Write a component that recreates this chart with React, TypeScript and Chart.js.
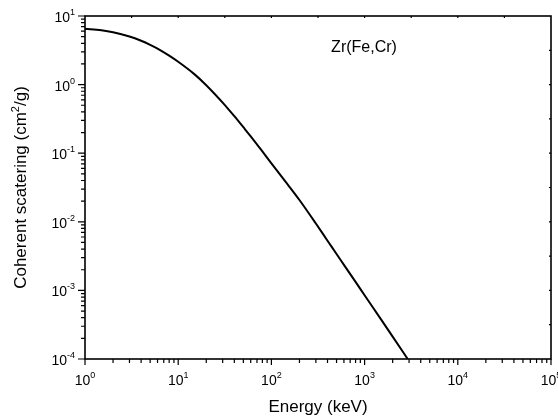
import React, { useEffect, useRef } from "react";
import { Chart, registerables } from "chart.js";

Chart.register(...registerables);

// Energy (keV)
const energies = [1, 1.5, 2, 3, 4, 5, 6, 8, 10, 15, 20, 30, 40, 50, 60, 80, 100, 150, 200, 300, 400, 500, 600, 800, 1000, 1500, 2000, 2900];
// Coherent scattering (cm^2/g)
const coherent = [6.5, 6.19, 5.8, 5.02, 4.35, 3.8, 3.35, 2.64, 2.15, 1.41, 0.98, 0.546, 0.346, 0.239, 0.176, 0.106, 0.071, 0.0349, 0.0208, 0.00944, 0.0053, 0.0034, 0.00236, 0.00133, 0.00085, 0.000378, 0.000212, 0.0001];

const xDecades = [0, 1, 2, 3, 4, 5];
const yDecades = [-4, -3, -2, -1, 0, 1];
const seriesLabel = "Zr(Fe,Cr)";
const xTitle = "Energy (keV)";
const yTitleMain = "Coherent scatering (cm";
const yTitleSup = "2";
const yTitleEnd = "/g)";

const FONT = '"Liberation Sans", Arial, sans-serif';

const axesPlugin = {
  id: "originAxes",
  afterDraw(chart: any) {
    const ctx = chart.ctx as CanvasRenderingContext2D;
    const { left, right, top, bottom } = chart.chartArea;
    const xs = chart.scales.x;
    const ys = chart.scales.y;
    ctx.save();
    ctx.strokeStyle = "#000";
    ctx.fillStyle = "#000";
    ctx.lineWidth = 1.6;
    ctx.strokeRect(left, top, right - left, bottom - top);

    ctx.lineWidth = 1.2;
    ctx.beginPath();
    // left axis ticks
    yDecades.forEach((d) => {
      const py = ys.getPixelForValue(Math.pow(10, d));
      ctx.moveTo(left - 7, py);
      ctx.lineTo(left, py);
      if (d < yDecades[yDecades.length - 1]) {
        for (let m = 2; m <= 9; m++) {
          const p = ys.getPixelForValue(m * Math.pow(10, d));
          ctx.moveTo(left - 4, p);
          ctx.lineTo(left, p);
        }
      }
    });
    // bottom axis ticks
    xDecades.forEach((d) => {
      const px = xs.getPixelForValue(Math.pow(10, d));
      ctx.moveTo(px, bottom);
      ctx.lineTo(px, bottom + 6);
      if (d < xDecades[xDecades.length - 1]) {
        for (let m = 2; m <= 9; m++) {
          const p = xs.getPixelForValue(m * Math.pow(10, d));
          ctx.moveTo(p, bottom);
          ctx.lineTo(p, bottom + 4);
        }
      }
    });
    // top axis half-decade ticks
    for (let k = 1; k < xDecades.length * 2 - 2; k++) {
      const p = xs.getPixelForValue(Math.pow(10, k / 2));
      ctx.moveTo(p, top);
      ctx.lineTo(p, top + 2);
    }
    // right axis half-decade ticks
    for (let k = -7; k < 2; k++) {
      const p = ys.getPixelForValue(Math.pow(10, k / 2));
      ctx.moveTo(right, p);
      ctx.lineTo(right - 2, p);
    }
    ctx.stroke();

    // tick labels
    const base = `14px ${FONT}`;
    const sup = `9px ${FONT}`;
    ctx.textBaseline = "alphabetic";
    yDecades.forEach((d) => {
      const py = ys.getPixelForValue(Math.pow(10, d));
      ctx.font = sup;
      const e = String(d);
      const ew = ctx.measureText(e).width;
      ctx.font = base;
      const bw = ctx.measureText("10").width;
      const endX = left - 10;
      ctx.textAlign = "left";
      ctx.fillText("10", endX - ew - bw, py + 6);
      ctx.font = sup;
      ctx.fillText(e, endX - ew, py - 1);
    });
    xDecades.forEach((d) => {
      const px = xs.getPixelForValue(Math.pow(10, d));
      ctx.font = sup;
      const e = String(d);
      const ew = ctx.measureText(e).width;
      ctx.font = base;
      const bw = ctx.measureText("10").width;
      const sx = px - (bw + ew) / 2;
      ctx.textAlign = "left";
      ctx.fillText("10", sx, bottom + 26);
      ctx.font = sup;
      ctx.fillText(e, sx + bw, bottom + 19);
    });

    // x title
    ctx.font = `17px ${FONT}`;
    ctx.textAlign = "center";
    ctx.fillText(xTitle, (left + right) / 2, 412);

    // y title (rotated)
    ctx.save();
    ctx.translate(26, (top + bottom) / 2);
    ctx.rotate(-Math.PI / 2);
    ctx.font = `17px ${FONT}`;
    const w1 = ctx.measureText(yTitleMain).width;
    const w3 = ctx.measureText(yTitleEnd).width;
    ctx.font = `11px ${FONT}`;
    const w2 = ctx.measureText(yTitleSup).width;
    const total = w1 + w2 + w3;
    const x0 = -total / 2;
    ctx.textAlign = "left";
    ctx.font = `17px ${FONT}`;
    ctx.fillText(yTitleMain, x0, 0);
    ctx.font = `11px ${FONT}`;
    ctx.fillText(yTitleSup, x0 + w1, -7);
    ctx.font = `17px ${FONT}`;
    ctx.fillText(yTitleEnd, x0 + w1 + w2, 0);
    ctx.restore();

    // annotation
    ctx.font = `16px ${FONT}`;
    ctx.textAlign = "center";
    ctx.fillText(seriesLabel, 364, 52);
    ctx.restore();
  },
};

export default function App() {
  const ref = useRef<HTMLCanvasElement | null>(null);
  useEffect(() => {
    if (!ref.current) return;
    const points = energies.map((e, i) => ({ x: e, y: coherent[i] }));
    const chart = new Chart(ref.current, {
      type: "line",
      data: {
        datasets: [
          {
            label: seriesLabel,
            data: points,
            borderColor: "#000",
            borderWidth: 2,
            pointRadius: 0,
            cubicInterpolationMode: "monotone",
            fill: false,
          },
        ],
      },
      options: {
        animation: false,
        responsive: false,
        maintainAspectRatio: false,
        layout: { padding: { left: 85, right: 7, top: 16, bottom: 57 } },
        plugins: { legend: { display: false }, tooltip: { enabled: false } },
        scales: {
          x: { type: "logarithmic", min: 1, max: 100000, display: false },
          y: { type: "logarithmic", min: 0.0001, max: 10, display: false },
        },
      },
      plugins: [axesPlugin],
    });
    return () => chart.destroy();
  }, []);
  return (
    <div style={{ position: "absolute", left: 0, top: 0, width: 558, height: 416, background: "#fff" }}>
      <canvas ref={ref} width={558} height={416} />
    </div>
  );
}
